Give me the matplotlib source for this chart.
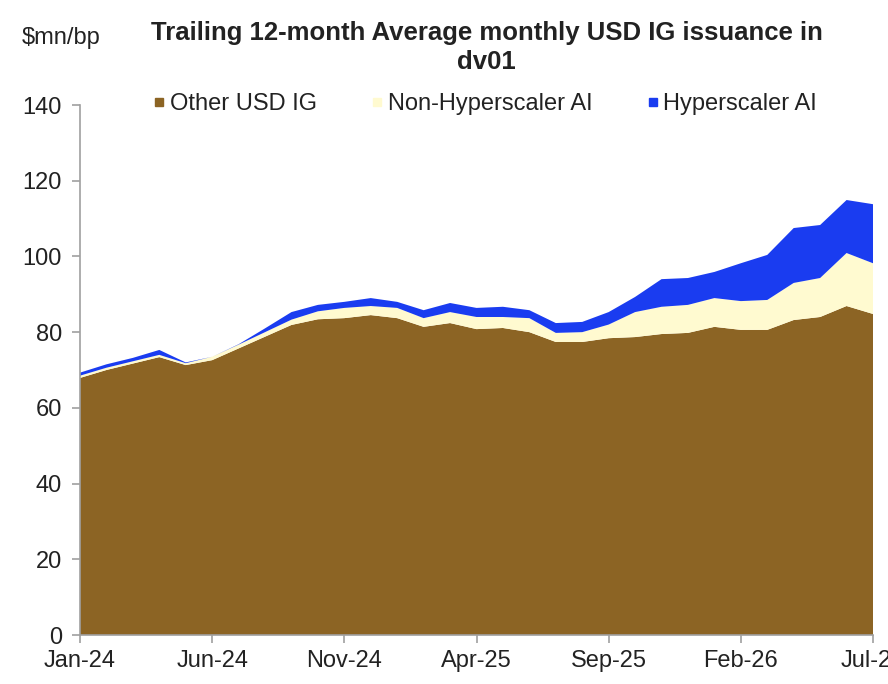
import numpy as np
import matplotlib
matplotlib.use("Agg")
import matplotlib.pyplot as plt
from matplotlib.lines import Line2D

plt.rcParams['font.family'] = ['Liberation Sans Narrow', 'Liberation Sans', 'DejaVu Sans']

months = ['Jan-24', 'Feb-24', 'Mar-24', 'Apr-24', 'May-24', 'Jun-24', 'Jul-24', 'Aug-24',
          'Sep-24', 'Oct-24', 'Nov-24', 'Dec-24', 'Jan-25', 'Feb-25', 'Mar-25', 'Apr-25',
          'May-25', 'Jun-25', 'Jul-25', 'Aug-25', 'Sep-25', 'Oct-25', 'Nov-25', 'Dec-25',
          'Jan-26', 'Feb-26', 'Mar-26', 'Apr-26', 'May-26', 'Jun-26', 'Jul-26']

# (stack tops), then split into layers below
other_usd_ig = [67.9, 70.0, 71.7, 73.4, 71.3, 72.6, 75.7, 78.8, 81.9, 83.4, 83.7,
                84.5, 83.7, 81.4, 82.4, 80.8, 81.1, 80.0, 77.4, 77.4, 78.4, 78.7,
                79.5, 79.8, 81.4, 80.6, 80.6, 83.2, 84.0, 86.9, 84.8]
non_hyper_ai = [0.6, 0.6, 0.6, 0.6, 0.5, 0.9, 1.0, 1.2, 1.4, 2.1, 2.7,
                2.4, 2.7, 2.3, 2.9, 3.2, 2.9, 3.7, 2.4, 2.6, 3.6, 6.6,
                7.2, 7.4, 7.6, 7.6, 7.9, 9.8, 10.3, 14.0, 13.4]
hyper_ai = [0.8, 0.9, 0.9, 1.3, 0.2, 0.0, 0.1, 1.0, 2.0, 1.7, 1.6,
            2.1, 1.6, 2.1, 2.4, 2.4, 2.7, 2.1, 2.6, 2.7, 3.3, 4.0,
            7.3, 7.1, 6.9, 10.0, 11.9, 14.5, 14.0, 14.0, 15.6]

tick_idx = [0, 5, 10, 15, 20, 25, 30]

c_other = '#8c6424'
c_non = '#fffad0'
c_hyper = '#1a3cf0'

fig = plt.figure(figsize=(8.88, 6.84), dpi=100)
ax = fig.add_axes([80 / 888, 49 / 684, 793 / 888, 530 / 684])

x = np.arange(len(months))
ax.stackplot(x, other_usd_ig, non_hyper_ai, hyper_ai,
             colors=[c_other, c_non, c_hyper], linewidth=0)

ax.set_xlim(0, len(months) - 1)
ax.set_ylim(0, 140)
ax.set_yticks(range(0, 141, 20))
ax.set_xticks(tick_idx)
ax.set_xticklabels([months[i] for i in tick_idx])

for s in ['top', 'right']:
    ax.spines[s].set_visible(False)
for s in ['left', 'bottom']:
    ax.spines[s].set_color('#a0a0a0')
    ax.spines[s].set_linewidth(1.2)
ax.tick_params(axis='both', colors='#a0a0a0', length=6, width=1.2, labelsize=17,
               labelcolor='#222222')
ax.tick_params(axis='x', pad=5)
ax.tick_params(axis='y', pad=7)

fig.text(0.548, 0.952, 'Trailing 12-month Average monthly USD IG issuance in',
         ha='center', va='center', fontsize=18.5, fontweight='bold', color='#222222')
fig.text(0.548, 0.909, 'dv01', ha='center', va='center', fontsize=18.5,
         fontweight='bold', color='#222222')
fig.text(0.024, 0.944, '$mn/bp', ha='left', va='center', fontsize=17, color='#222222')

handles = [Line2D([], [], marker='s', linestyle='none', markersize=6,
                  markerfacecolor=c, markeredgecolor=c) for c in [c_other, c_non, c_hyper]]
fig.legend(handles, ['Other USD IG', 'Non-Hyperscaler AI', 'Hyperscaler AI'],
           loc='center', bbox_to_anchor=(0.545, 0.848), ncol=3, frameon=False,
           fontsize=17, handletextpad=0.1, columnspacing=2.2, handlelength=0.7,
           labelcolor='#222222')

fig.savefig('out.png', dpi=100)
